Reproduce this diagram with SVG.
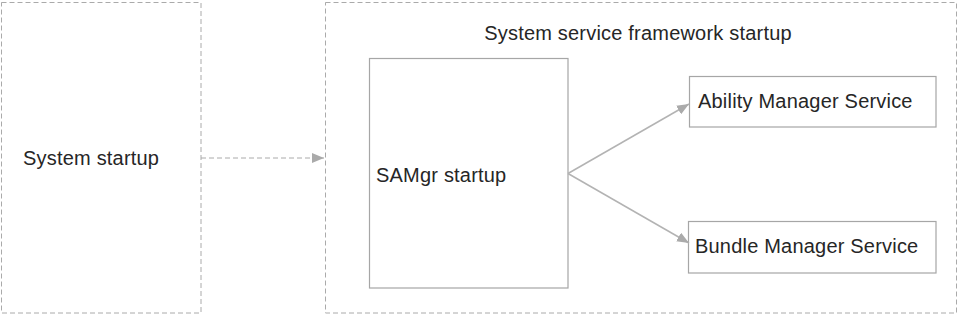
<svg xmlns="http://www.w3.org/2000/svg" width="960" height="316" viewBox="0 0 960 316">
<defs>
<style>
.dash{fill:none;stroke:#aaaaaa;stroke-width:1;stroke-dasharray:5 3;}
.box{fill:#ffffff;stroke:#a6a6a6;stroke-width:1.2;}
.lbl{font-family:"Liberation Sans",Arial,sans-serif;font-size:20px;fill:#262626;letter-spacing:0.2px;}
.conn{fill:none;stroke:#b3b3b3;stroke-width:1.5;}
</style>
<marker id="ah" viewBox="0 0 12 10" refX="12" refY="5" markerWidth="12" markerHeight="10" markerUnits="userSpaceOnUse" orient="auto">
<path d="M0,0 L12,5 L0,10 Z" fill="#aaaaaa"/>
</marker>
</defs>
<rect width="960" height="316" fill="#ffffff"/>
<g id="system-startup">
<rect class="dash" x="1.5" y="2.5" width="199.5" height="310.5"/>
<text class="lbl" x="23" y="165">System startup</text>
</g>
<g id="framework">
<rect class="dash" x="325.5" y="2.5" width="631" height="310.5"/>
<text class="lbl" x="638" y="40" text-anchor="middle">System service framework startup</text>
</g>
<g id="samgr">
<rect class="box" x="369.5" y="58.5" width="198.5" height="229.5"/>
<text class="lbl" x="376" y="182">SAMgr startup</text>
</g>
<g id="ams">
<rect class="box" x="689.5" y="76.5" width="246.5" height="50.5"/>
<text class="lbl" x="698" y="108">Ability Manager Service</text>
</g>
<g id="bms">
<rect class="box" x="688.5" y="221.5" width="247.5" height="51.5"/>
<text class="lbl" x="695" y="253">Bundle Manager Service</text>
</g>
<g id="connectors">
<line class="dash" x1="201" y1="158" x2="324" y2="158" marker-end="url(#ah)"/>
<line class="conn" x1="568" y1="173.5" x2="689" y2="104" marker-end="url(#ah)"/>
<line class="conn" x1="568" y1="173.5" x2="689" y2="243" marker-end="url(#ah)"/>
</g>
</svg>
